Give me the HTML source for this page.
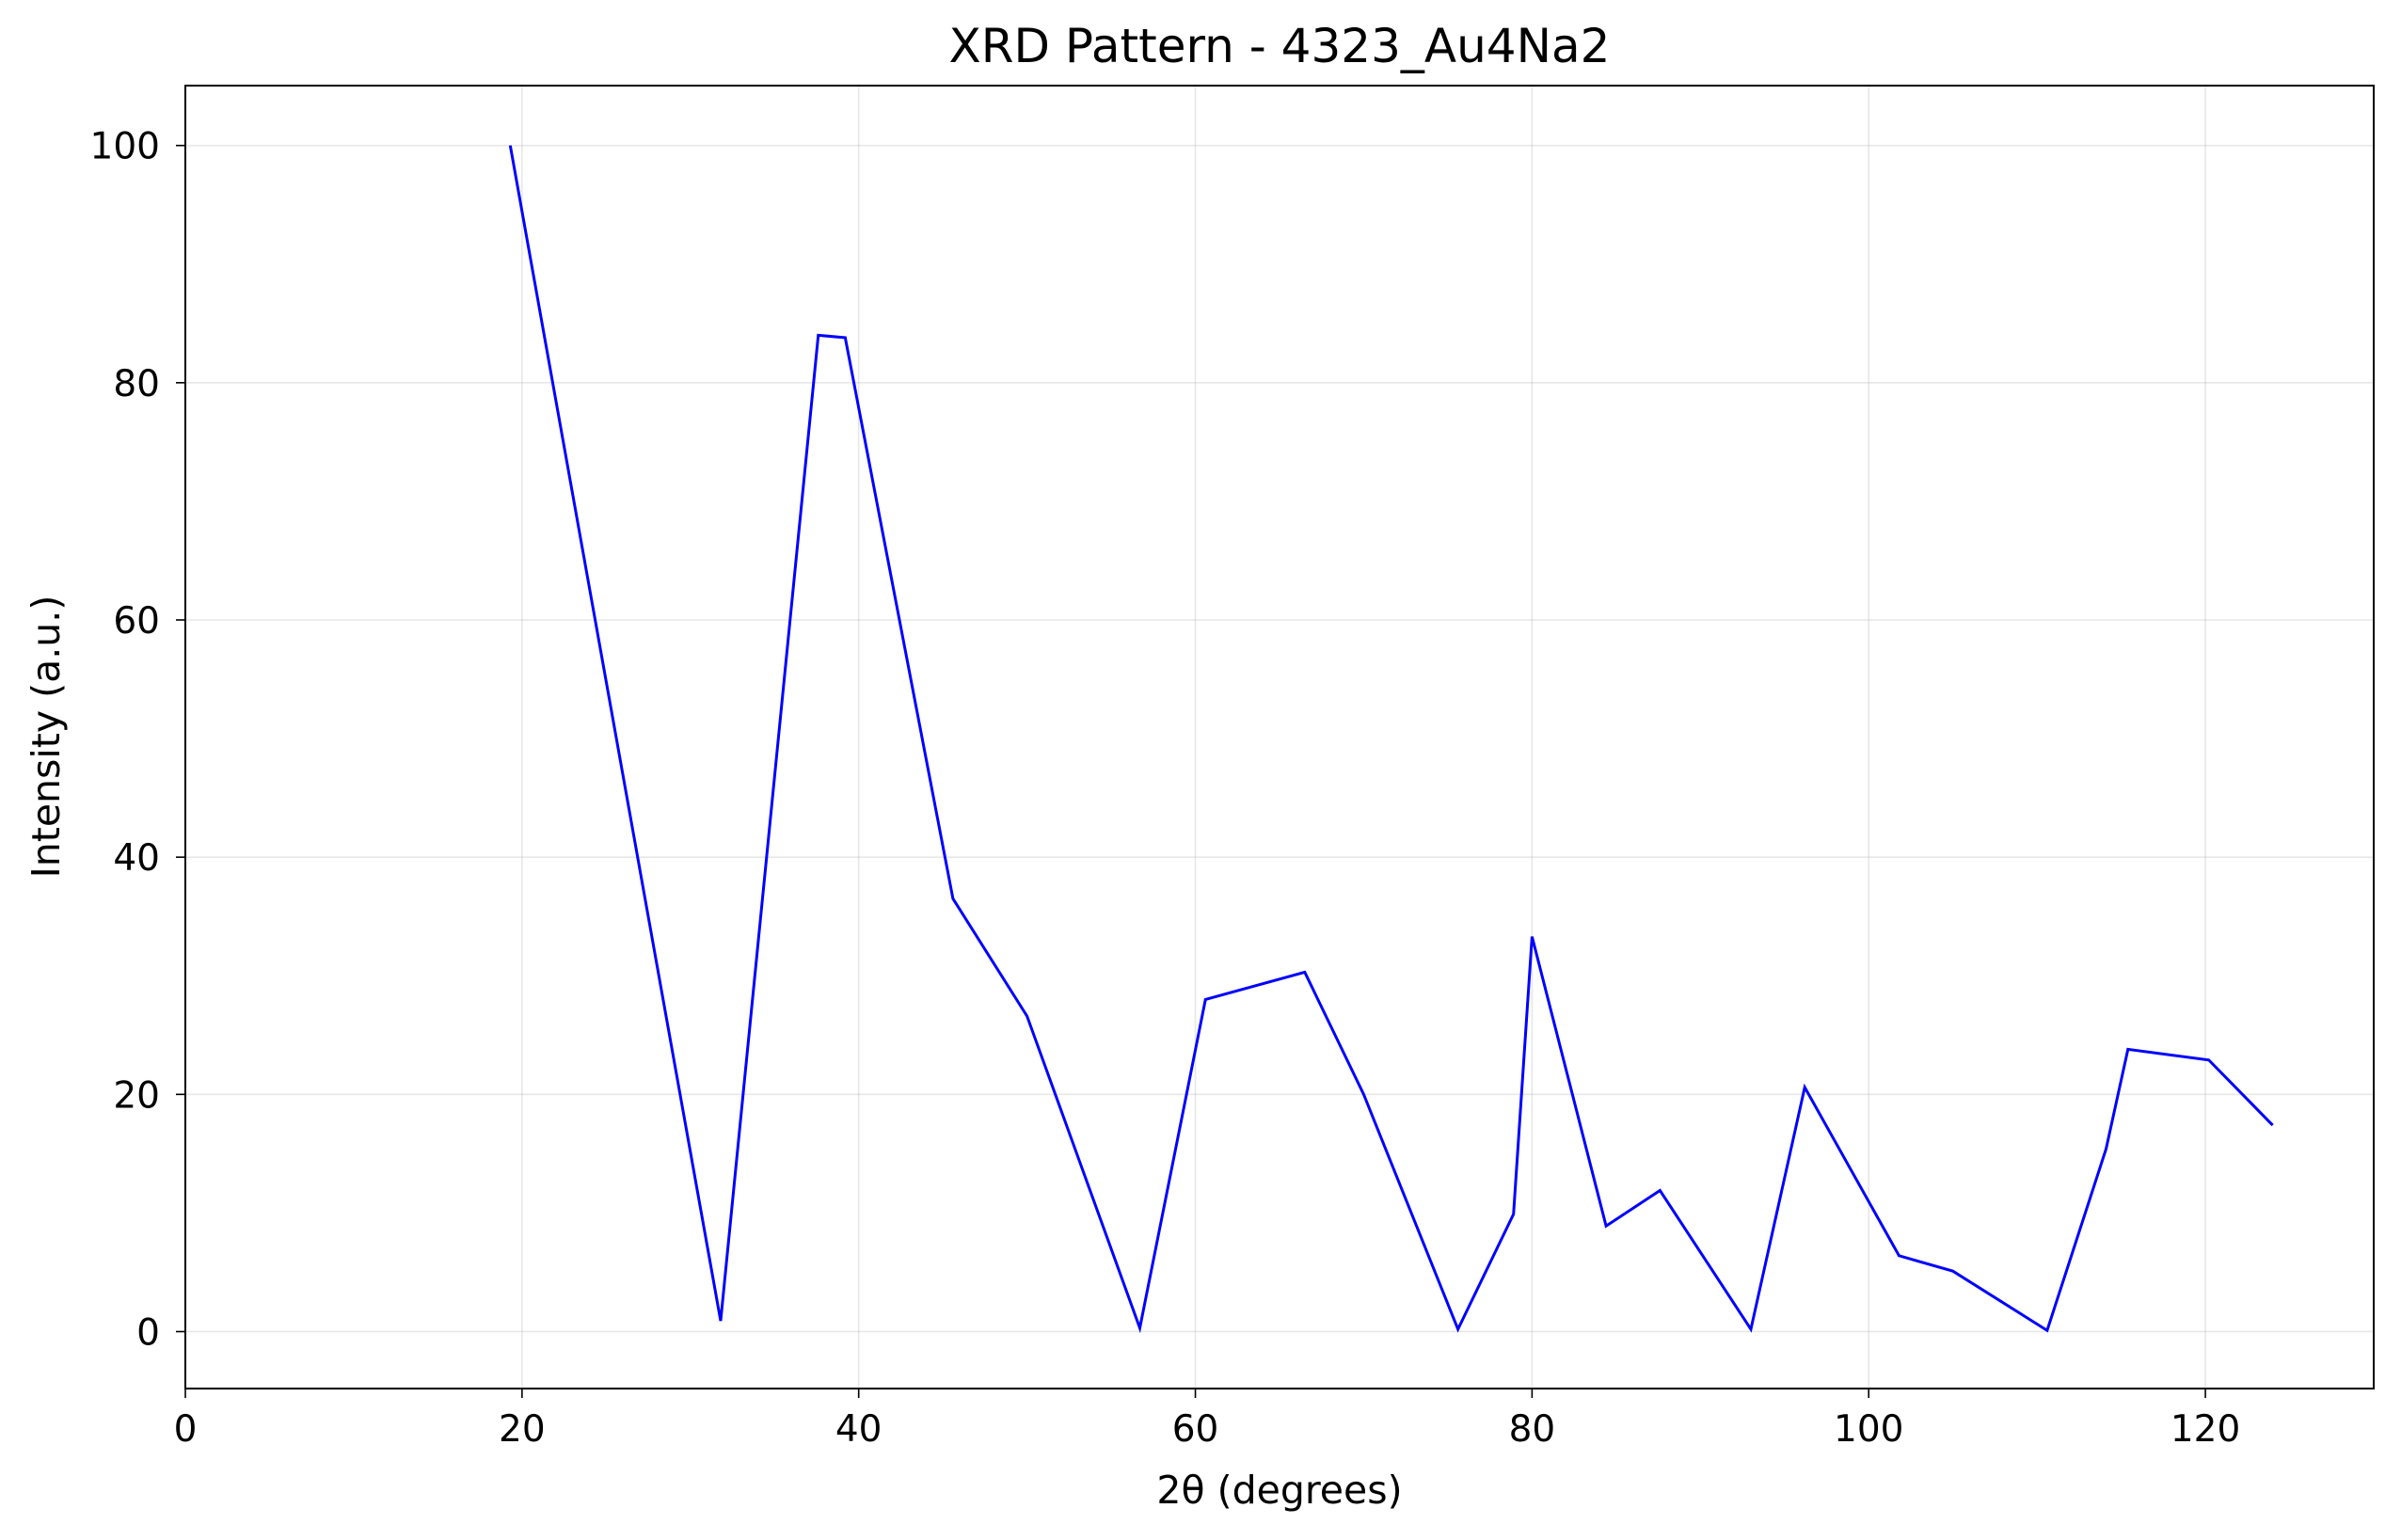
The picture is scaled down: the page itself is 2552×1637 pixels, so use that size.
<!DOCTYPE html>
<html><head><meta charset="utf-8"><style>
html,body{margin:0;padding:0;background:#fff;}
svg{display:block;font-family:"DejaVu Sans","Liberation Sans",sans-serif;}
</style></head><body>
<svg id="chart" width="2552" height="1637" viewBox="0 0 2552 1637" xmlns="http://www.w3.org/2000/svg">
<rect width="2552" height="1637" fill="#fff"/>
<g id="grid"></g>
<polyline id="line" fill="none" stroke="#0000ff" stroke-width="3" stroke-linejoin="miter"/>
<rect x="197" y="91" width="2326" height="1385" fill="none" stroke="#000" stroke-width="2"/>
<g id="ticks"></g>
<text x="1360" y="66" text-anchor="middle" font-size="50">XRD Pattern - 4323_Au4Na2</text>
<text x="1360" y="1598" text-anchor="middle" font-size="41">2θ (degrees)</text>
<text transform="translate(63,783) rotate(-90)" text-anchor="middle" font-size="41">Intensity (a.u.)</text>
</svg>
<script>
const xValues=[19.3,31.8,37.6,39.2,45.6,50.0,56.7,60.6,66.5,70.0,75.6,78.9,80.0,84.4,87.6,93.0,96.2,101.8,105.0,110.6,114.1,115.4,120.2,124.0];
const yValues=[100,0.9,84.0,83.8,36.5,26.6,0.3,28.0,30.3,20.0,0.2,9.9,33.3,8.9,11.9,0.2,20.6,6.4,5.1,0.1,15.4,23.8,22.9,17.4];
const xTicks=[0,20,40,60,80,100,120];
const yTicks=[0,20,40,60,80,100];
const L=197,R=2523,T=91,B=1476,xMin=0,xMax=130,yMin=-4.8,yMax=105.05;
const sx=v=>L+(v-xMin)/(xMax-xMin)*(R-L);
const sy=v=>B-(v-yMin)/(yMax-yMin)*(B-T);
const NS="http://www.w3.org/2000/svg";
const grid=document.getElementById('grid'),ticks=document.getElementById('ticks');
function mk(tag,attrs,parent){const e=document.createElementNS(NS,tag);for(const k in attrs)e.setAttribute(k,attrs[k]);parent.appendChild(e);return e;}
xTicks.forEach(t=>{const x=sx(t);
 const g=mk('line',{x1:x,x2:x,y1:T,y2:B,stroke:'#b0b0b0','stroke-opacity':0.3,'stroke-width':1.6},grid);
 
 
 const k=mk('line',{x1:x,x2:x,y1:B,y2:B+10,stroke:'#000','stroke-width':1.6},ticks);
 
 
 const l=mk('text',{x:x,y:B+56,'text-anchor':'middle','font-size':39},ticks);l.textContent=t;
 
 
});
yTicks.forEach(t=>{const y=sy(t);
 const g=mk('line',{x1:L,x2:R,y1:y,y2:y,stroke:'#b0b0b0','stroke-opacity':0.3,'stroke-width':1.6},grid);
 
 
 const k=mk('line',{x1:L-10,x2:L,y1:y,y2:y,stroke:'#000','stroke-width':1.6},ticks);
 
 
 const l=mk('text',{x:L-27,y:y+14,'text-anchor':'end','font-size':39},ticks);l.textContent=t;
 
 
});
document.getElementById('line').setAttribute('points',xValues.map((x,i)=>sx(x)+','+sy(yValues[i])).join(' '));
</script>
</body></html>
